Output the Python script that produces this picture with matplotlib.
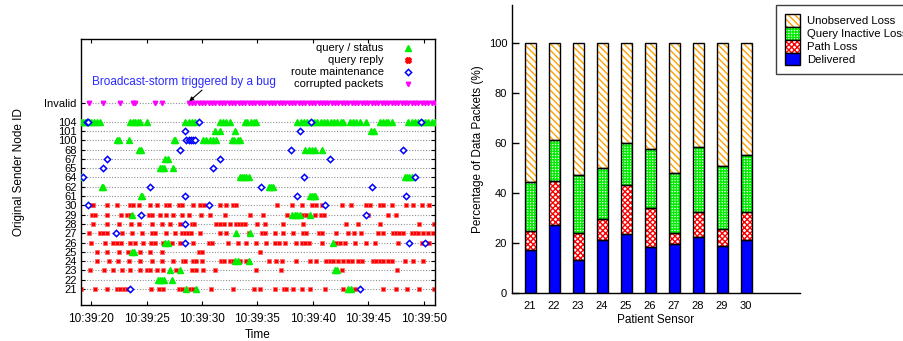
import numpy as np
import matplotlib
matplotlib.use('Agg')
import matplotlib.pyplot as plt
from matplotlib.patches import Patch
from matplotlib.ticker import FuncFormatter

plt.rcParams['font.family'] = ['Liberation Sans', 'DejaVu Sans']
plt.rcParams['font.size'] = 8
plt.rcParams['hatch.linewidth'] = 1.0

# ---------------- left panel data (seconds after 10:39:00) ----------------
nodes = ['21', '22', '23', '24', '25', '26', '27', '28', '29', '30',
         '61', '62', '64', '65', '67', '68', '100', '101', '104']
invalid_label = 'Invalid'

status_pts = {
    '104': [19.1, 19.3, 19.5, 19.8, 20.0, 20.3, 20.5, 20.8, 23.5, 23.8, 24.0, 24.2, 24.4, 25.0,
            28.5, 28.8, 29.1, 29.4, 31.6, 31.9, 32.2, 32.5, 33.9, 34.1, 34.4, 34.7, 34.9,
            38.6, 38.9, 39.2, 39.5, 39.8, 40.1, 40.4, 40.7, 41.0, 41.3, 41.6, 41.9, 42.2, 42.5, 42.7,
            43.3, 43.6, 43.9, 44.2, 44.8, 46.0, 46.3, 46.6, 46.8, 47.1,
            48.6, 48.9, 49.2, 49.5, 49.8, 50.1, 50.4, 50.7, 51.0],
    '101': [31.2, 31.6, 33.0, 45.2, 45.5],
    '100': [22.3, 22.5, 23.4, 27.5, 27.6, 30.1, 30.4, 30.7, 31.0, 31.3, 32.7, 32.9, 33.2, 33.4],
    '68': [24.3, 24.5, 39.3, 39.6, 39.9, 40.2, 40.8],
    '67': [26.7, 26.9],
    '65': [26.2, 26.4, 26.6, 27.4],
    '64': [19.1, 33.4, 33.6, 33.8, 34.0, 34.2, 48.3, 48.5, 48.7, 48.9],
    '62': [21.0, 21.1, 36.0, 36.2, 36.4],
    '61': [24.5, 24.6, 39.7, 39.9, 40.1, 40.2],
    '29': [23.7, 38.1, 38.4, 38.6, 38.8, 39.7],
    '27': [33.1, 34.3],
    '26': [26.7, 26.9, 41.8],
    '25': [23.7, 23.9],
    '24': [33.0, 33.2, 34.2],
    '23': [27.1, 28.0, 42.0, 42.2],
    '22': [26.0, 26.2, 26.4, 26.6, 27.3],
    '21': [28.6, 29.5, 43.2, 43.4],
}

reply_pts = {
    '30': [20.1, 20.2, 21.4, 22.3, 23.5, 23.8, 24.3, 25.3, 25.9, 26.8, 27.0, 27.9, 28.2, 29.2,
           29.8, 30.2, 31.6, 32.2, 32.8, 33.1, 36.8, 38.1, 39.0, 39.9, 40.3, 40.8, 42.6, 43.4,
           44.8, 45.1, 46.0, 46.3, 47.1, 48.4, 49.0, 49.8, 50.5],
    '29': [20.1, 20.4, 21.4, 22.7, 23.2, 23.5, 25.2, 25.5, 26.2, 26.8, 27.4, 28.2, 28.8, 29.9,
           30.7, 32.1, 34.3, 35.5, 37.7, 39.1, 39.4, 40.2, 40.7, 41.0, 45.0, 46.8, 47.5],
    '28': [20.2, 21.4, 22.5, 23.6, 24.3, 25.5, 26.4, 27.1, 28.0, 29.1, 29.3, 31.3, 31.6, 32.0,
           32.5, 33.1, 33.3, 33.6, 33.9, 35.0, 35.7, 37.3, 39.1, 43.0, 44.1, 46.0, 49.6, 50.9],
    '27': [19.8, 20.8, 21.1, 21.4, 22.8, 23.7, 24.6, 25.5, 25.8, 26.8, 27.6, 28.2, 28.5, 28.7,
           29.0, 29.8, 31.6, 32.2, 34.2, 35.4, 35.7, 36.6, 37.3, 38.2, 39.1, 39.4, 40.5, 40.8,
           42.1, 43.2, 43.7, 44.3, 45.9, 46.3, 47.2, 47.5, 47.8, 48.1, 48.9, 49.2, 49.5, 49.9,
           50.4, 50.8],
    '26': [20.0, 21.3, 22.0, 22.3, 22.7, 23.5, 24.0, 24.7, 25.4, 25.8, 26.5, 27.3, 28.0, 29.2,
           30.6, 30.9, 32.3, 33.2, 34.0, 34.9, 35.8, 36.6, 36.9, 37.5, 38.5, 39.0, 39.3, 39.6,
           40.8, 42.1, 42.4, 42.9, 43.8, 44.8, 45.6, 47.7, 49.8, 50.5],
    '25': [20.5, 21.4, 22.5, 23.3, 24.4, 25.3, 26.4, 29.7, 30.0, 35.2],
    '24': [20.5, 21.6, 22.4, 23.4, 24.4, 25.5, 26.4, 27.4, 28.3, 28.5, 29.2, 29.5, 30.0, 31.7,
           32.0, 32.5, 32.8, 33.4, 34.0, 36.0, 36.7, 37.2, 38.5, 39.7, 40.3, 41.2, 41.5, 41.8,
           42.3, 42.7, 43.2, 43.5, 44.1, 44.4, 45.4, 45.7, 46.0, 46.3, 46.8, 47.1, 48.3, 49.0,
           49.9],
    '23': [19.9, 21.2, 22.0, 22.8, 23.5, 24.4, 25.0, 25.3, 25.9, 26.5, 27.7, 29.1, 29.5, 30.1,
           31.2, 34.9, 37.1, 42.6, 47.6],
    '21': [19.1, 20.4, 21.4, 22.3, 22.6, 23.0, 23.2, 25.4, 26.1, 26.5, 27.9, 28.2, 28.9, 29.2,
           30.8, 32.8, 34.7, 35.2, 36.6, 37.4, 37.6, 38.2, 39.0, 39.7, 41.1, 42.7, 43.8, 46.3,
           47.5, 48.5, 49.6, 50.9],
}

route_pts = {
    '104': [19.6, 19.7, 29.7, 39.8, 49.7],
    '101': [28.5, 38.8],
    '100': [28.6, 28.8, 29.0, 29.2, 29.4],
    '68': [28.0, 38.0, 48.1],
    '67': [21.4, 31.6, 41.5],
    '65': [21.1, 31.0],
    '64': [19.25, 39.2, 49.2],
    '62': [25.3, 35.3, 45.3],
    '61': [28.5, 38.6, 48.4],
    '30': [19.7, 30.6, 41.1],
    '29': [24.5, 44.8],
    '28': [28.5],
    '27': [22.25],
    '26': [28.5, 48.7, 50.1],
    '21': [23.5, 44.2],
}

corrupt_pts = [19.8, 21.1, 22.6, 23.8, 24.0, 25.8, 26.4]
storm_pts = [28.8, 29.1, 29.4, 29.7, 30.0, 30.3, 30.6, 30.9, 31.2, 31.5, 31.8, 32.1, 32.4,
             32.7, 33.0, 33.3, 33.6, 33.9, 34.2, 34.5, 34.8, 35.1, 35.4, 35.7, 36.0, 36.3,
             36.6, 36.9, 37.2, 37.5, 37.8, 38.1, 38.4, 38.7, 39.0, 39.3, 39.6, 39.9, 40.2,
             40.5, 40.8, 41.1, 41.4, 41.7, 42.0, 42.3, 42.6, 42.9, 43.2, 43.5, 43.8, 44.1,
             44.4, 44.7, 45.0, 45.3, 45.6, 45.9, 46.2, 46.5, 46.8, 47.1, 47.4, 47.7, 48.0,
             48.3, 48.6, 48.9, 49.2, 49.5, 49.8, 50.1, 50.4, 50.7, 51.0]

# ---------------- right panel data ----------------
sensors = [21, 22, 23, 24, 25, 26, 27, 28, 29, 30]
delivered = [17.2, 27.0, 13.0, 21.0, 23.4, 18.2, 19.4, 22.5, 18.6, 21.0]
path_loss = [7.7, 17.8, 11.1, 8.7, 19.8, 15.9, 4.4, 10.0, 6.8, 11.5]
query_inactive = [19.5, 16.3, 23.0, 20.1, 16.6, 23.4, 24.2, 25.9, 25.4, 22.5]
unobserved = [55.6, 38.9, 52.9, 50.2, 40.2, 42.5, 52.0, 41.6, 49.2, 45.0]

fig = plt.figure(figsize=(9.04, 3.41), dpi=100)

# ======== left: packet trace ========
ax = fig.add_axes([0.0893, 0.1056, 0.3919, 0.78])
row = {n: i for i, n in enumerate(nodes)}
inv_y = len(nodes) + 1

for i in range(len(nodes)):
    ax.axhline(i, color='#909090', lw=0.8, ls=(0, (1, 1.5)), zorder=0)
ax.axhline(inv_y, color='#909090', lw=0.8, ls=(0, (1, 1.5)), zorder=0)

for n, ts in reply_pts.items():
    ax.plot(ts, [row[n]] * len(ts), 's', color='#ff0000', mec='#ff6060', mew=0.5, ms=3.5,
            ls='none', zorder=2)
for n, ts in status_pts.items():
    ax.plot(ts, [row[n]] * len(ts), '^', color='#00ee00', mec='#00ee00', ms=4.2, ls='none', zorder=3)
for n, ts in route_pts.items():
    ax.plot(ts, [row[n]] * len(ts), 'D', mfc='white', mec='#0000ff', mew=1.1, ms=3.2, ls='none', zorder=4)
ax.plot(corrupt_pts + storm_pts, [inv_y] * (len(corrupt_pts) + len(storm_pts)), 'v',
        color='#ff00ff', ms=3.2, ls='none', zorder=3)

# legend-only handles
ax.plot([], [], '^', color='#00ee00', ms=4, ls='none', label='query / status')
ax.plot([], [], 'X', color='#ff0000', ms=4, ls='none', label='query reply')
ax.plot([], [], 'D', mfc='white', mec='#0000ff', mew=1.1, ms=3.2, ls='none', label='route maintenance')
ax.plot([], [], 'v', color='#ff00ff', ms=3.2, ls='none', label='corrupted packets')
ax.legend(loc='upper right', markerfirst=False, frameon=False, fontsize=8, labelspacing=0.18,
          handlelength=1.2, handletextpad=1.6, borderaxespad=0.0, bbox_to_anchor=(0.955, 1.0))

ax.text(20.1, inv_y + 2.3, 'Broadcast-storm triggered by a bug', color='#2a2aff', fontsize=8.5,
        ha='left', va='center')
ax.annotate('', xy=(28.85, inv_y + 0.2), xytext=(30.0, inv_y + 1.4),
            arrowprops=dict(arrowstyle='-|>', color='black', lw=0.8, mutation_scale=6,
                            shrinkA=0, shrinkB=0))

ax.set_xlim(19.07, 51.0)
ax.set_ylim(-1.72, 26.9)
ax.set_yticks(list(range(len(nodes))) + [inv_y])
ax.set_yticklabels(nodes + [invalid_label])
ax.set_xticks([20, 25, 30, 35, 40, 45, 50])
ax.xaxis.set_major_formatter(FuncFormatter(lambda v, p: '10:39:%02d' % int(round(v))))
ax.tick_params(direction='in', top=True, right=True, length=3, width=0.8, pad=3, labelsize=8)
ax.tick_params(axis='x', labelsize=8.5, pad=6)
ax.set_xlabel('Time', fontsize=8.5, labelpad=3)
ax.set_ylabel('Original Sender Node ID', fontsize=8.5, labelpad=14)
for s in ax.spines.values():
    s.set_linewidth(1.0)

# ======== right: stacked bars ========
bx = fig.add_axes([0.5664, 0.1408, 0.3186, 0.8445])
w = 0.46
bot = np.zeros(len(sensors))
segs = [
    (delivered, '#0000ff', '#0000ff', None),
    (path_loss, 'white', '#ff0000', 'xxxxxx'),
    (query_inactive, 'white', '#00ee00', '++++++'),
    (unobserved, 'white', '#ffa000', '\\\\\\\\\\'),
]
for vals, fc, hc, h in segs:
    if h is None:
        bx.bar(sensors, vals, w, bottom=bot, color=fc, lw=0, zorder=2)
    else:
        bx.bar(sensors, vals, w, bottom=bot, color=fc, edgecolor=hc, hatch=h, lw=0, zorder=2)
    bx.bar(sensors, vals, w, bottom=bot, fill=False, edgecolor='black', lw=1.0, zorder=3)
    bot = bot + np.array(vals)

bx.set_xlim(20.25, 32.25)
bx.set_ylim(0, 115)
bx.set_yticks([0, 20, 40, 60, 80, 100])
bx.set_xticks(sensors)
bx.spines['top'].set_visible(False)
bx.spines['right'].set_visible(False)
bx.spines['left'].set_linewidth(1.0)
bx.spines['bottom'].set_linewidth(1.0)
bx.tick_params(axis='y', direction='in', length=5, width=1.0, labelsize=8)
bx.tick_params(axis='x', length=0, pad=6, labelsize=8)
bx.set_xlabel('Patient Sensor', fontsize=8.5, labelpad=2)
bx.set_ylabel('Percentage of Data Packets (%)', fontsize=8.5, labelpad=3)

handles = [
    (Patch(facecolor='white', edgecolor='#ffa000', hatch='\\\\\\\\\\', lw=0), Patch(fill=False, edgecolor='black', lw=1)),
    (Patch(facecolor='white', edgecolor='#00ee00', hatch='++++++', lw=0), Patch(fill=False, edgecolor='black', lw=1)),
    (Patch(facecolor='white', edgecolor='#ff0000', hatch='xxxxxx', lw=0), Patch(fill=False, edgecolor='black', lw=1)),
    (Patch(facecolor='#0000ff', lw=0), Patch(fill=False, edgecolor='black', lw=1)),
]
labels = ['Unobserved Loss', 'Query Inactive Loss', 'Path Loss', 'Delivered']
leg = fig.legend(handles, labels, loc='upper left', bbox_to_anchor=(0.858, 0.985), fontsize=8.2,
                 fancybox=False, edgecolor='#404040', framealpha=1, labelspacing=0,
                 handlelength=1.35, handleheight=1.35, handletextpad=0.6, borderpad=0.8,
                 borderaxespad=0)
leg.get_frame().set_linewidth(1.0)

fig.savefig('out.png', dpi=100)
